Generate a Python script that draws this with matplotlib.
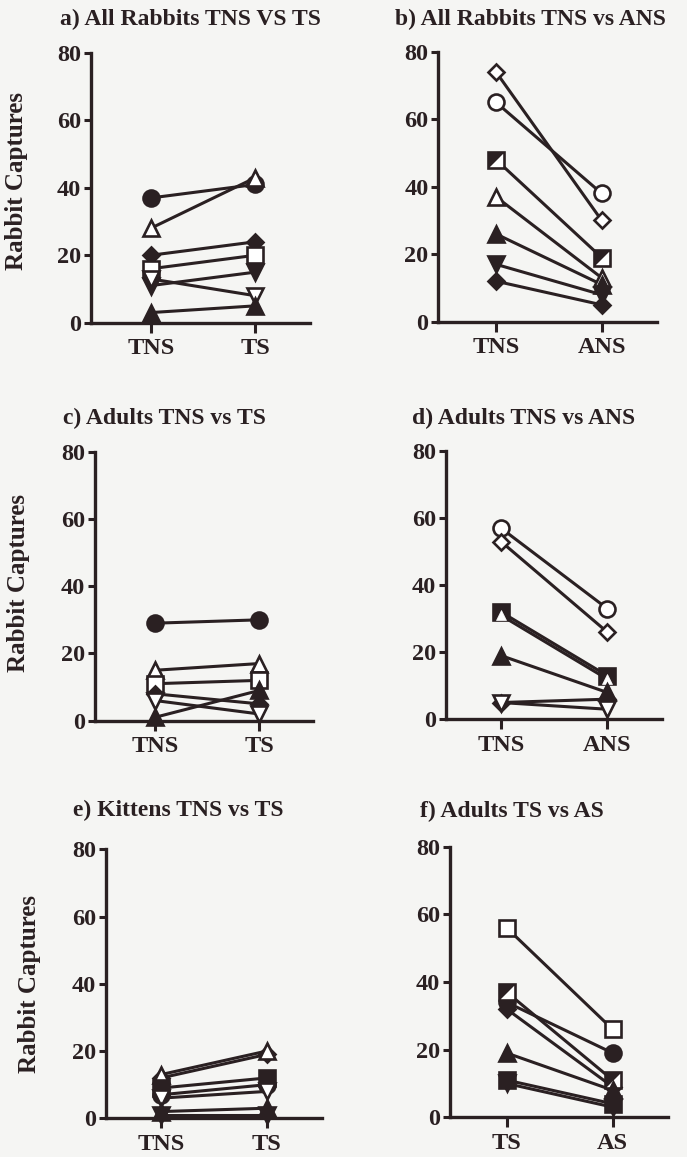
import matplotlib.pyplot as plt
from matplotlib.path import Path

plt.rcParams['font.family'] = ['Liberation Serif', 'DejaVu Serif']
plt.rcParams['font.weight'] = 'bold'

INK = '#2a2022'
BG = '#f5f5f3'
W, H = 687, 1157

# ---- data (rabbit captures, first group -> second group) ----
a_groups = ['TNS', 'TS']
a_first = [37, 28, 20, 16, 11, 13, 3]
a_second = [41, 43, 24, 20, 15, 8, 5]
a_marks = ['o_f', '^_o', 'D_f', 's_o', 'v_f', 'v_o', '^_f']

b_groups = ['TNS', 'ANS']
b_first = [74, 65, 48, 37, 26, 17, 12]
b_second = [30, 38, 19, 13, 11, 8, 5]
b_marks = ['D_o', 'o_o', 'half', '^_o', '^_f', 'v_f', 'D_f']

c_groups = ['TNS', 'TS']
c_first = [29, 15, 11, 8, 6, 1]
c_second = [30, 17, 12, 5, 2, 9]
c_marks = ['o_f', '^_o', 's_o', 'D_f', 'v_o', '^_f']

d_groups = ['TNS', 'ANS']
d_first = [57, 53, 32, 31, 19, 5, 5]
d_second = [33, 26, 13, 12, 8, 6, 3]
d_marks = ['o_o', 'D_o', 's_f', 'tin', '^_f', 'D_f', 'v_o']

e_groups = ['TNS', 'TS']
e_first = [12, 13, 9, 7, 6, 2, 1]
e_second = [19, 20, 12, 10, 8, 3, 1]
e_marks = ['D_f', '^_o', 's_f', 'o_f', 'v_o', '^_f', 'v_f']

f_groups = ['TS', 'AS']
f_first = [56, 34, 32, 37, 19, 11, 10]
f_second = [26, 19, 9, 11, 8, 4, 3]
f_marks = ['s_o', 'o_f', 'D_f', 'half', '^_f', 's_f', 'v_f']

titles = ['a) All Rabbits TNS VS TS', 'b) All Rabbits TNS vs ANS',
          'c) Adults TNS vs TS', 'd) Adults TNS vs ANS',
          'e) Kittens TNS vs TS', 'f) Adults TS vs AS']

# layout in pixels: spine x, right end, first tick, second tick, y(80), y(0)
boxes = [(90.7, 310, 150.7, 255.3, 53, 322.7),
         (438.3, 656.7, 496, 601.7, 51.7, 321.7),
         (95, 313.3, 155, 259.3, 451.7, 720.7),
         (446, 661.7, 501, 607.3, 451, 719.3),
         (106, 321.7, 161, 266.7, 849.3, 1118.3),
         (450, 668.3, 506.7, 612.7, 846.7, 1117.3)]
title_pos = [(190, 19), (530, 19), (164, 418), (524, 418), (178, 810), (512, 811)]
ylab_pos = [(17, 181), (19, 583), (30, 984)]

HALF = Path([(-1, 1), (1, 1), (-1, -1), (-1, 1)],
            [Path.MOVETO, Path.LINETO, Path.LINETO, Path.CLOSEPOLY])

MS = 11.5
MEW = 1.9


def draw_marks(ax, ys, key, z):
    xs = [0, 1]
    kw = dict(ls='none', clip_on=False, zorder=z, mew=MEW, mec=INK)
    if key == 'half':
        ax.plot(xs, ys, marker='s', ms=MS, mfc='white', **kw)
        ax.plot(xs, ys, marker=HALF, ms=MS, mfc=INK, ls='none', mew=0,
                clip_on=False, zorder=z + 0.001)
        return
    if key == 'tin':
        ax.plot(xs, ys, marker='^', ms=6.5, mfc='white', mec='white', mew=0.5,
                ls='none', clip_on=False, zorder=z)
        return
    shape, fill = key.split('_')
    ms = 8.3 if shape == 'D' else MS
    face = INK if fill == 'f' else 'white'
    ax.plot(xs, ys, marker=shape, ms=ms, mfc=face, **kw)


fig = plt.figure(figsize=(W / 100, H / 100), dpi=100)
fig.patch.set_facecolor(BG)

panels = [(a_groups, a_first, a_second, a_marks),
          (b_groups, b_first, b_second, b_marks),
          (c_groups, c_first, c_second, c_marks),
          (d_groups, d_first, d_second, d_marks),
          (e_groups, e_first, e_second, e_marks),
          (f_groups, f_first, f_second, f_marks)]

for k, (groups, first, second, marks) in enumerate(panels):
    sx, rx, t0, t1, y80, y0 = boxes[k]
    ax = fig.add_axes([sx / W, 1 - y0 / H, (rx - sx) / W, (y0 - y80) / H])
    ax.set_facecolor('none')
    step = t1 - t0
    ax.set_xlim((sx - t0) / step, (rx - t0) / step)
    ax.set_ylim(0, 80)

    for v1, v2 in zip(first, second):
        ax.plot([0, 1], [v1, v2], color=INK, lw=2.2, zorder=2, clip_on=False)
    for i, (v1, v2, m) in enumerate(zip(first, second, marks)):
        draw_marks(ax, [v1, v2], m, 3 + i * 0.01)

    for side in ['top', 'right']:
        ax.spines[side].set_visible(False)
    for side in ['left', 'bottom']:
        ax.spines[side].set_linewidth(2.4)
        ax.spines[side].set_color(INK)
    ax.set_yticks([0, 20, 40, 60, 80])
    ax.set_xticks([0, 1])
    ax.set_xticklabels(groups)
    ax.tick_params(axis='y', length=5, width=2.2, pad=2, labelsize=17.5, colors=INK)
    ax.tick_params(axis='x', length=7, width=2.2, pad=4, labelsize=17.5, colors=INK)

    tx, ty = title_pos[k]
    fig.text(tx / W, 1 - ty / H, titles[k], ha='center', va='center',
             fontsize=17, color=INK)

for lx, ly in ylab_pos:
    fig.text(lx / W, 1 - ly / H, 'Rabbit Captures', rotation=90,
             ha='center', va='center', fontsize=18, color=INK)

fig.savefig('out.png', dpi=100, facecolor=BG)
